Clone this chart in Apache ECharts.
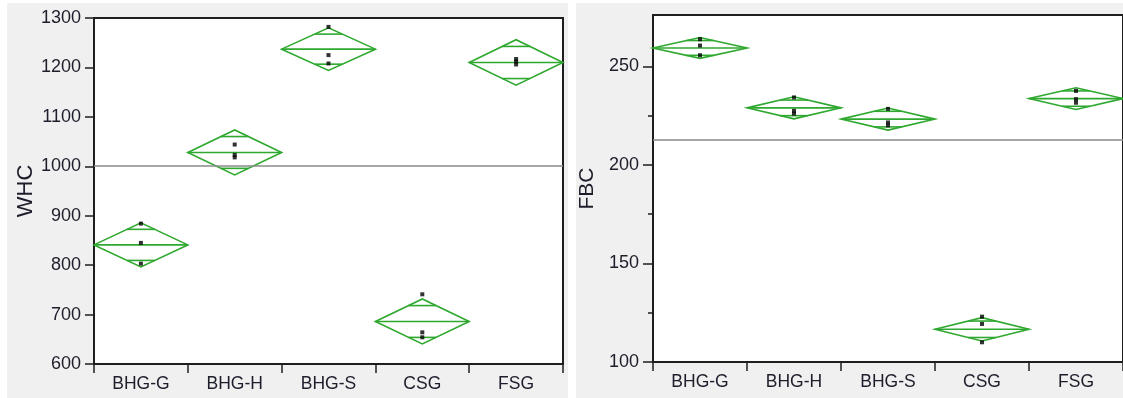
<!DOCTYPE html>
<html>
<head>
<meta charset="utf-8">
<script src="https://cdn.jsdelivr.net/npm/echarts@6/dist/echarts.min.js"></script>
<style>
html,body{margin:0;padding:0;background:#fff;}
#chart{width:1123px;height:398px;}
</style>
</head>
<body>
<div id="chart"></div>
<script>
// ---- Data ----
const categories = ['BHG-G', 'BHG-H', 'BHG-S', 'CSG', 'FSG'];

// WHC panel
const whcMeans   = [841, 1028, 1237, 686, 1210];
const whcCIHalf  = [44.5, 45.5, 43, 45.5, 46];
const whcPoints  = [[884, 845, 803], [1044, 1023, 1018], [1282, 1225, 1208], [741, 664, 654], [1217, 1212, 1206]];
const whcGrandMean = 1001;
const whcTicks = [600, 1300, 100]; // min, max, step

// FBC panel
const fbcMeans   = [259.3, 228.9, 223.2, 116.6, 233.6];
const fbcCIHalf  = [5.3, 5.6, 5.6, 5.9, 5.5];
const fbcPoints  = [[263.7, 260.5, 255.6], [234.2, 227.4, 226], [228.4, 221.5, 220], [123, 119.3, 110], [237.5, 233.3, 231.5]];
const fbcGrandMean = 212.5;
const fbcTicks = [100, 276, 50];
const fbcMinorTicks = [125, 175, 225];

// ---- Styles ----
const GREEN = '#2fa82f';
const AXIS = '#1e1e1e';
const TXT = '#1d1d2b';
const SANS = "'Liberation Sans',Arial,sans-serif";

function renderDiamond(params, api) {
  const i = api.value(0), m = api.value(1), h = api.value(2);
  const c = api.coord([i, m]);
  const top = api.coord([i, m + h]);
  const bot = api.coord([i, m - h]);
  const half = api.size([1, 0])[0] / 2;
  const k = Math.SQRT1_2;
  const oyT = api.coord([i, m + h * k])[1];
  const oyB = api.coord([i, m - h * k])[1];
  const ow = half * (1 - k);
  const st = {stroke: GREEN, lineWidth: 1.6, fill: null};
  return {
    type: 'group',
    children: [
      {type: 'polygon', shape: {points: [[c[0] - half, c[1]], [c[0], top[1]], [c[0] + half, c[1]], [c[0], bot[1]]]}, style: st},
      {type: 'line', shape: {x1: c[0] - half, y1: c[1], x2: c[0] + half, y2: c[1]}, style: st},
      {type: 'line', shape: {x1: c[0] - ow, y1: oyT, x2: c[0] + ow, y2: oyT}, style: st},
      {type: 'line', shape: {x1: c[0] - ow, y1: oyB, x2: c[0] + ow, y2: oyB}, style: st}
    ]
  };
}

function pointsData(pts) {
  const out = [];
  pts.forEach((arr, i) => arr.forEach(v => out.push([i, v])));
  return out;
}

const grids = [
  {left: 94, top: 18, right: 560, bottom: 34, show: true, backgroundColor: '#fff', borderColor: AXIS, borderWidth: 2},
  {left: 653, top: 15, right: -4, bottom: 36, show: true, backgroundColor: '#fff', borderColor: AXIS, borderWidth: 2}
];

function xAxisFor(gi) {
  return {
    type: 'category', gridIndex: gi, data: categories,
    axisLine: {lineStyle: {color: AXIS, width: 2}},
    axisTick: {show: true, length: 9, lineStyle: {color: AXIS, width: 1.5}},
    axisLabel: {color: TXT, fontFamily: SANS, fontSize: 17.5, margin: 11},
    splitLine: {show: false}
  };
}

const option = {
  animation: false,
  backgroundColor: '#fff',
  graphic: [
    {type: 'rect', z: -100, shape: {x: 7, y: 3, width: 561, height: 395}, style: {fill: '#f0f0f0'}},
    {type: 'rect', z: -100, shape: {x: 576, y: 3, width: 547, height: 395}, style: {fill: '#f0f0f0'}}
  ],
  grid: grids,
  xAxis: [xAxisFor(0), xAxisFor(1)],
  yAxis: [
    {
      type: 'value', gridIndex: 0, min: whcTicks[0], max: whcTicks[1], interval: whcTicks[2],
      name: 'WHC', nameLocation: 'middle', nameGap: 57, nameRotate: 90,
      nameTextStyle: {color: TXT, fontFamily: SANS, fontSize: 22},
      axisLine: {show: true, lineStyle: {color: AXIS, width: 2}},
      axisTick: {show: true, length: 9, lineStyle: {color: AXIS, width: 1.5}},
      axisLabel: {color: TXT, fontFamily: SANS, fontSize: 18, margin: 13, formatter: v => String(v)},
      splitLine: {show: false}
    },
    {
      type: 'value', gridIndex: 1, min: fbcTicks[0], max: fbcTicks[1], interval: fbcTicks[2],
      name: 'FBC', nameLocation: 'middle', nameGap: 55, nameRotate: 90,
      nameTextStyle: {color: TXT, fontFamily: SANS, fontSize: 21},
      axisLine: {show: true, lineStyle: {color: AXIS, width: 2}},
      axisTick: {show: true, length: 10, lineStyle: {color: AXIS, width: 1.5}},
      axisLabel: {color: TXT, fontFamily: SANS, fontSize: 18, margin: 14, showMaxLabel: false,
        formatter: v => (v % 50 === 0 ? String(v) : '')},
      splitLine: {show: false}
    },
    {
      type: 'value', gridIndex: 1, min: fbcTicks[0], max: fbcTicks[1], position: 'left',
      axisLine: {show: false},
      axisTick: {show: true, length: 5, customValues: fbcMinorTicks, lineStyle: {color: AXIS, width: 1.5}},
      axisLabel: {show: false},
      splitLine: {show: false}
    }
  ],
  series: [
    {
      type: 'custom', xAxisIndex: 0, yAxisIndex: 0, renderItem: renderDiamond,
      encode: {x: 0, y: 1},
      data: whcMeans.map((m, i) => [i, m, whcCIHalf[i]]),
      markLine: {silent: true, symbol: 'none', label: {show: false},
        lineStyle: {color: '#8a8a8a', type: 'solid', width: 1.5},
        data: [{yAxis: whcGrandMean}]},
      z: 2
    },
    {
      type: 'scatter', xAxisIndex: 0, yAxisIndex: 0, symbol: 'rect', symbolSize: 4,
      itemStyle: {color: '#000'}, data: pointsData(whcPoints), z: 3
    },
    {
      type: 'custom', xAxisIndex: 1, yAxisIndex: 1, renderItem: renderDiamond,
      encode: {x: 0, y: 1},
      data: fbcMeans.map((m, i) => [i, m, fbcCIHalf[i]]),
      markLine: {silent: true, symbol: 'none', label: {show: false},
        lineStyle: {color: '#8a8a8a', type: 'solid', width: 1.5},
        data: [{yAxis: fbcGrandMean}]},
      z: 2
    },
    {
      type: 'scatter', xAxisIndex: 1, yAxisIndex: 1, symbol: 'rect', symbolSize: 4,
      itemStyle: {color: '#000'}, data: pointsData(fbcPoints), z: 3
    }
  ]
};

const chart = echarts.init(document.getElementById('chart'), null, {renderer: 'canvas'});
chart.setOption(option);
</script>
</body>
</html>
